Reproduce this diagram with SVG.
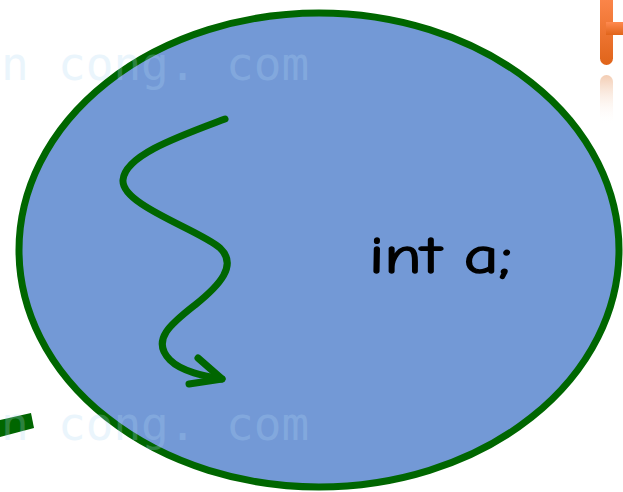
<svg xmlns="http://www.w3.org/2000/svg" width="623" height="492" viewBox="0 0 623 492">
<defs>
<style>
.wm{font-family:"DejaVu Sans Mono","Liberation Mono",monospace;font-size:46px;fill:#b0d8f5;opacity:0.25}
.lbl{font-family:"Comic Neue","DejaVu Sans",sans-serif;font-size:52px;fill:#000;stroke:#000;stroke-width:1.4}
.green{stroke:#006600;fill:none;stroke-width:7;stroke-linecap:round;stroke-linejoin:round}
</style>
<linearGradient id="og" x1="0" y1="0" x2="0" y2="1">
<stop offset="0" stop-color="#ff8a50"/>
<stop offset="1" stop-color="#e0641a"/>
</linearGradient>
<linearGradient id="ogr" x1="0" y1="0" x2="0" y2="1">
<stop offset="0" stop-color="#f0c0a0" stop-opacity="0.8"/>
<stop offset="1" stop-color="#ffffff" stop-opacity="0"/>
</linearGradient>
</defs>
<rect width="623" height="492" fill="#ffffff"/>
<g id="decor">
<rect x="600" y="-10" width="13" height="75" rx="6.5" fill="url(#og)"/>
<rect x="606" y="22" width="20" height="13" fill="url(#og)"/>
<rect x="600" y="75" width="13" height="50" rx="6.5" fill="url(#ogr)"/>
<polygon points="0,420 31,413 34,428 0,437" fill="#006600"/>
</g>
<g id="scope">
<ellipse cx="319" cy="250" rx="300" ry="237" fill="#7399d6" stroke="#006600" stroke-width="7"/>
</g>
<g id="connectors">
<path class="green" d="M225,119 C180,136 125,155 123,180 C121,205 200,230 220,248 C238,265 220,285 195,305 C172,323 150,340 170,360 C182,372 205,376 222,379"/>
<path class="green" d="M198,358 L222,379 L189,384"/>
</g>
<g id="label">
<text class="lbl" x="369" y="273" textLength="143" lengthAdjust="spacingAndGlyphs">int a;</text>
</g>
<g id="watermark">
<text class="wm" x="1" y="80">n</text>
<text class="wm" x="58" y="80">cong.</text>
<text class="wm" x="226" y="80">com</text>
<text class="wm" x="1" y="440">n</text>
<text class="wm" x="58" y="440">cong.</text>
<text class="wm" x="226" y="440">com</text>
</g>
</svg>
